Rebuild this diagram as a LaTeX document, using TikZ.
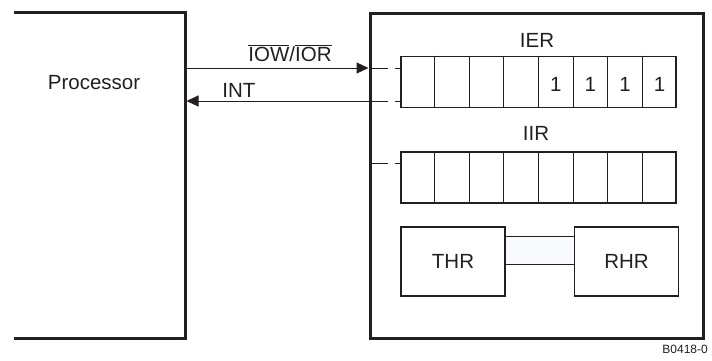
\documentclass[tikz,border=0pt]{standalone}
\usepackage{fontspec}
\setmainfont{Liberation Sans}
\usetikzlibrary{arrows.meta,calc}
\definecolor{ink}{HTML}{231F20}
\definecolor{bandfill}{HTML}{F9FAFD}
\tikzset{
  heavy/.style={draw=ink, line width=3pt, line cap=butt, line join=miter},
  regbox/.style={draw=ink, line width=1.8pt, rectangle, minimum width=275pt, minimum height=51pt, inner sep=0pt},
  bufbox/.style={draw=ink, line width=1.8pt, rectangle, minimum width=104pt, minimum height=69pt, inner sep=0pt, text=ink, font=\fontsize{20.5}{24}\selectfont},
  lbl/.style={text=ink, font=\fontsize{20.5}{24}\selectfont, inner sep=0pt},
  tiny/.style={text=ink, font=\fontsize{12}{14}\selectfont, inner sep=0pt},
  sig/.style={draw=ink, line width=1pt, -{Triangle[length=12pt,width=11pt]}},
  stub/.style={draw=ink, line width=1pt, dash pattern=on 18pt off 7pt},
  divider/.style={draw=ink, line width=0.9pt}
}
\begin{document}
\begin{tikzpicture}[x=1pt,y=-1pt]
\useasboundingbox (0,0) rectangle (712,360);
% processor box (open on the left)
\coordinate (p1) at (14,12);
\coordinate (p2) at (185,12);
\coordinate (p3) at (185,338);
\coordinate (p4) at (14,338);
\draw[heavy] (p1) -- (p2) -- (p3) -- (p4);
\node[lbl, anchor=base] (proc) at (94,89) {Processor};
% UART box
\coordinate (u1) at (370,13);
\coordinate (u2) at (703,338);
\draw[heavy] (u1) rectangle (u2);
% registers
\node[regbox] (ier) at (538.5,82) {};
\node[regbox] (iir) at (538.5,177.5) {};
\foreach \r in {ier,iir}{
  \foreach \i in {1,...,7}{
    \draw[divider] ($(\r.north west)!\i/8!(\r.north east)$) -- ($(\r.south west)!\i/8!(\r.south east)$);
  }
}
\foreach \i in {5,...,8}{
  \node[lbl, anchor=base] (one\i) at ($(ier.west)!{(2*\i-1)/16}!(ier.east) + (0,9)$) {1};
}
\node[lbl, anchor=base] (ierlbl) at (537,47) {IER};
\node[lbl, anchor=base] (iirlbl) at (536,140) {IIR};
% THR / RHR with band
\node[bufbox] (thr) at (453,261.5) {THR};
\node[bufbox] (rhr) at (626.5,261.5) {RHR};
\fill[bandfill] (thr.east |- 0,236) rectangle (rhr.west |- 0,264);
\draw[ink, line width=0.8pt] (thr.east |- 0,236) -- (rhr.west |- 0,236);
\draw[ink, line width=0.8pt] (thr.east |- 0,264) -- (rhr.west |- 0,264);
% signal lines
\coordinate (pa) at (186.5,68);
\coordinate (ua) at (368.5,68);
\coordinate (pb) at (186.5,101);
\coordinate (ub) at (370,101);
\draw[sig] (pa) -- (ua);
\draw[sig] (ub) -- (pb);
\node[lbl, anchor=base] (iow) at (290,61) {$\overline{\hbox{IOW}}$/$\overline{\hbox{IOR}}$};
\node[lbl, anchor=base] (int) at (239,97) {INT};
% dashed stubs into registers
\coordinate (s1) at (370,68);
\coordinate (s2) at (370,101);
\coordinate (s3) at (370,163);
\draw[stub] (s1) -- (ier.west |- s1);
\draw[stub] (s2) -- (ier.west |- s2);
\draw[stub] (s3) -- (iir.west |- s3);
\node[tiny, anchor=base east] (code) at (708,353) {B0418-0};
\end{tikzpicture}
\end{document}
